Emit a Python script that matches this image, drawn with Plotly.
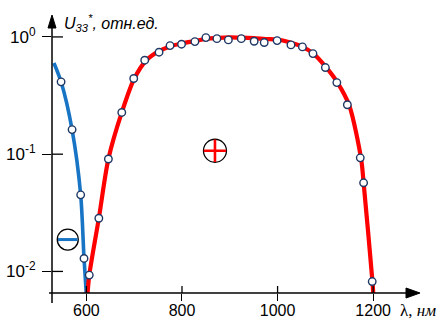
import plotly.graph_objects as go

# ---- data ----
blue_curve_x = [532, 547, 570, 588, 595, 600]
blue_curve_y = [0.60, 0.414, 0.162, 0.045, 0.0129, 0.0062]

red_curve_x = [602, 606, 626, 646, 674, 700, 725, 750, 775, 800, 825, 850, 875, 900,
               925, 950, 975, 1000, 1025, 1050, 1075, 1100, 1125, 1150, 1175, 1180, 1198.5, 1200.5]
red_curve_y = [0.0062, 0.0093, 0.0284, 0.091, 0.227, 0.44, 0.63, 0.75, 0.83, 0.88, 0.92, 0.96,
               0.98, 0.99, 0.985, 0.975, 0.96, 0.95, 0.90, 0.83, 0.72, 0.56, 0.41, 0.26, 0.09,
               0.057, 0.0082, 0.0062]

blue_pts_x = [547, 570, 588, 595]
blue_pts_y = [0.414, 0.162, 0.045, 0.0129]

red_pts_x = [606, 626, 646, 674, 699, 722, 752, 775, 799, 827, 850, 873, 897, 924, 951,
             972, 999, 1028, 1052, 1074, 1100, 1124, 1146, 1173, 1180, 1198]
red_pts_y = [0.0093, 0.0284, 0.091, 0.227, 0.442, 0.633, 0.741, 0.843, 0.867, 0.912, 0.987,
             0.967, 0.943, 0.967, 0.919, 0.895, 0.93, 0.855, 0.822, 0.721, 0.548, 0.408,
             0.264, 0.093, 0.057, 0.0082]

plus_pos = (869, 0.107)
minus_pos = (561, 0.0187)

x_ticks = [600, 800, 1000, 1200]
x_ticktext = ["600", "800", "1000", "1200"]
y_ticks = [1, 0.1, 0.01]
y_ticktext = ["10<sup>0</sup>", "10<sup>-1</sup>", "10<sup>-2</sup>"]

x_range = [528, 1298]
y_range_log = [-2.184, 0.187]

RED = "#ff0000"
BLUE = "#1874c4"
NAVY = "#1f3864"

fig = go.Figure()

fig.add_trace(go.Scatter(x=blue_curve_x, y=blue_curve_y, mode="lines",
                         line=dict(color=BLUE, width=3.6, shape="spline", smoothing=0.8),
                         hoverinfo="skip"))
fig.add_trace(go.Scatter(x=red_curve_x, y=red_curve_y, mode="lines",
                         line=dict(color=RED, width=4.2, shape="spline", smoothing=0.8),
                         hoverinfo="skip"))
fig.add_trace(go.Scatter(x=blue_pts_x, y=blue_pts_y, mode="markers",
                         marker=dict(symbol="circle", size=7.5, color="white",
                                     line=dict(color=NAVY, width=1.4))))
fig.add_trace(go.Scatter(x=red_pts_x, y=red_pts_y, mode="markers",
                         marker=dict(symbol="circle", size=7.5, color="white",
                                     line=dict(color=NAVY, width=1.4))))

# sign symbols
fig.add_trace(go.Scatter(x=[plus_pos[0]], y=[plus_pos[1]], mode="markers",
                         marker=dict(symbol="circle", size=23, color="white",
                                     line=dict(color="black", width=1.3))))
fig.add_trace(go.Scatter(x=[plus_pos[0]], y=[plus_pos[1]], mode="markers",
                         marker=dict(symbol="cross-thin", size=16,
                                     line=dict(color=RED, width=2.6))))
fig.add_trace(go.Scatter(x=[minus_pos[0]], y=[minus_pos[1]], mode="markers",
                         marker=dict(symbol="circle", size=21, color="white",
                                     line=dict(color="black", width=1.3))))
fig.add_trace(go.Scatter(x=[minus_pos[0]], y=[minus_pos[1]], mode="markers",
                         marker=dict(symbol="line-ew", size=14,
                                     line=dict(color=BLUE, width=3))))

shapes = []
# axis lines
shapes.append(dict(type="line", xref="paper", yref="paper", x0=0, x1=0, y0=-0.036, y1=0.96,
                   line=dict(color="black", width=1.5)))
shapes.append(dict(type="line", xref="paper", yref="paper", x0=-0.008, x1=0.97, y0=0, y1=0,
                   line=dict(color="black", width=1.5)))
# arrow heads
shapes.append(dict(type="path", xref="paper", yref="paper", xsizemode="pixel", ysizemode="pixel",
                   xanchor=0, yanchor=1, path="M 0 0 L -4 -13 L 4 -13 Z",
                   fillcolor="black", line=dict(color="black", width=1)))
shapes.append(dict(type="path", xref="paper", yref="paper", xsizemode="pixel", ysizemode="pixel",
                   xanchor=1, yanchor=0, path="M 0 0 L -14 5 L -14 -5 Z",
                   fillcolor="black", line=dict(color="black", width=1)))
# inner halves of the crossing ticks
for v in y_ticks:
    shapes.append(dict(type="line", xref="paper", yref="y", xsizemode="pixel", xanchor=0,
                       x0=0, x1=11, y0=v, y1=v, line=dict(color="black", width=1.3)))
for v in x_ticks:
    shapes.append(dict(type="line", xref="x", yref="paper", ysizemode="pixel", yanchor=0,
                       x0=v, x1=v, y0=0, y1=7, line=dict(color="black", width=1.3)))

annotations = [
    dict(xref="paper", yref="paper", x=0.028, y=0.972, xanchor="left", yanchor="middle",
         text="<i>U</i><sub><i>33</i></sub><sup><i>*</i></sup><i>, отн.ед.</i>", showarrow=False,
         font=dict(family="Liberation Sans, Arial, sans-serif", size=16, color="black")),
    dict(xref="paper", yref="paper", x=0.995, y=-0.062, xanchor="center", yanchor="middle",
         text="λ, <i>нм</i>", showarrow=False,
         font=dict(family="Liberation Serif, Times New Roman, serif", size=17, color="black")),
]

fig.update_layout(
    width=441, height=320,
    margin=dict(l=52, r=21, t=15, b=27, autoexpand=False),
    paper_bgcolor="white", plot_bgcolor="white",
    showlegend=False,
    shapes=shapes, annotations=annotations,
    font=dict(family="Liberation Sans, Arial, sans-serif", size=17, color="black"),
)
fig.update_xaxes(range=x_range, showgrid=False, zeroline=False, showline=False, automargin=False,
                 tickmode="array", tickvals=x_ticks, ticktext=x_ticktext,
                 ticks="outside", ticklen=7, tickwidth=1.3, tickcolor="black",
                 tickfont=dict(size=16), ticklabelstandoff=-4)
fig.update_yaxes(type="log", range=y_range_log, showgrid=False, zeroline=False, showline=False,
                 automargin=False,
                 tickmode="array", tickvals=y_ticks, ticktext=y_ticktext,
                 ticks="outside", ticklen=9, tickwidth=1.3, tickcolor="black",
                 tickfont=dict(size=17), ticklabelstandoff=3)

fig.write_html("out.html", config={"displayModeBar": False},
               post_script="document.body.style.margin='0px';document.body.style.padding='0px';")
